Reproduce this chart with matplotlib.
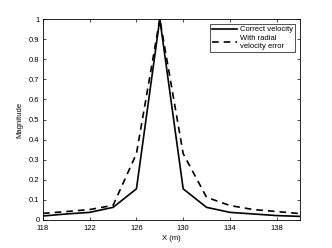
import matplotlib
matplotlib.use("Agg")
import matplotlib.pyplot as plt

x = [118, 120, 122, 124, 126, 128, 130, 132, 134, 136, 138, 140]
correct = [0.02, 0.03, 0.038, 0.063, 0.155, 1.0, 0.155, 0.063, 0.038, 0.03, 0.022, 0.018]
with_err = [0.033, 0.042, 0.052, 0.073, 0.33, 1.0, 0.33, 0.113, 0.072, 0.052, 0.042, 0.032]
xticks = [118, 122, 126, 130, 134, 138]
yticks = [0, 0.1, 0.2, 0.3, 0.4, 0.5, 0.6, 0.7, 0.8, 0.9, 1]
ytick_labels = ["0", "0.1", "0.2", "0.3", "0.4", "0.5", "0.6", "0.7", "0.8", "0.9", "1"]

plt.rcParams['font.family'] = ['Liberation Sans', 'DejaVu Sans']
fs = 5.5
fig = plt.figure(figsize=(3.32, 2.48), dpi=100)
ax = fig.add_axes([43/332, 1 - 220/248, (300-43)/332, (220-19)/248])
ax.plot(x, correct, color='black', lw=1.2, label='Correct velocity')
ax.plot(x, with_err, color='black', lw=1.2, ls=(0, (4, 3)), label='With radial\nvelocity error')
ax.set_xlim(118, 140)
ax.set_ylim(0, 1)
ax.set_xticks(xticks)
ax.set_yticks(yticks)
ax.set_yticklabels(ytick_labels)
ax.tick_params(direction='in', top=True, right=True, labelsize=fs, length=2.5, width=0.5)
ax.tick_params(axis='x', pad=3.5)
ax.tick_params(axis='y', pad=2.5)
for s in ax.spines.values():
    s.set_linewidth(0.6)
ax.set_xlabel('X (m)', fontsize=fs, labelpad=2)
ax.set_ylabel('Magnitude', fontsize=fs, labelpad=4)
leg = ax.legend(loc='upper right', fontsize=fs, frameon=True, fancybox=False,
                edgecolor='black', borderaxespad=0.6, handlelength=3.2,
                handletextpad=0.4, borderpad=0.3, labelspacing=0.2)
leg.get_frame().set_linewidth(0.6)
fig.savefig('out.png', dpi=100)
